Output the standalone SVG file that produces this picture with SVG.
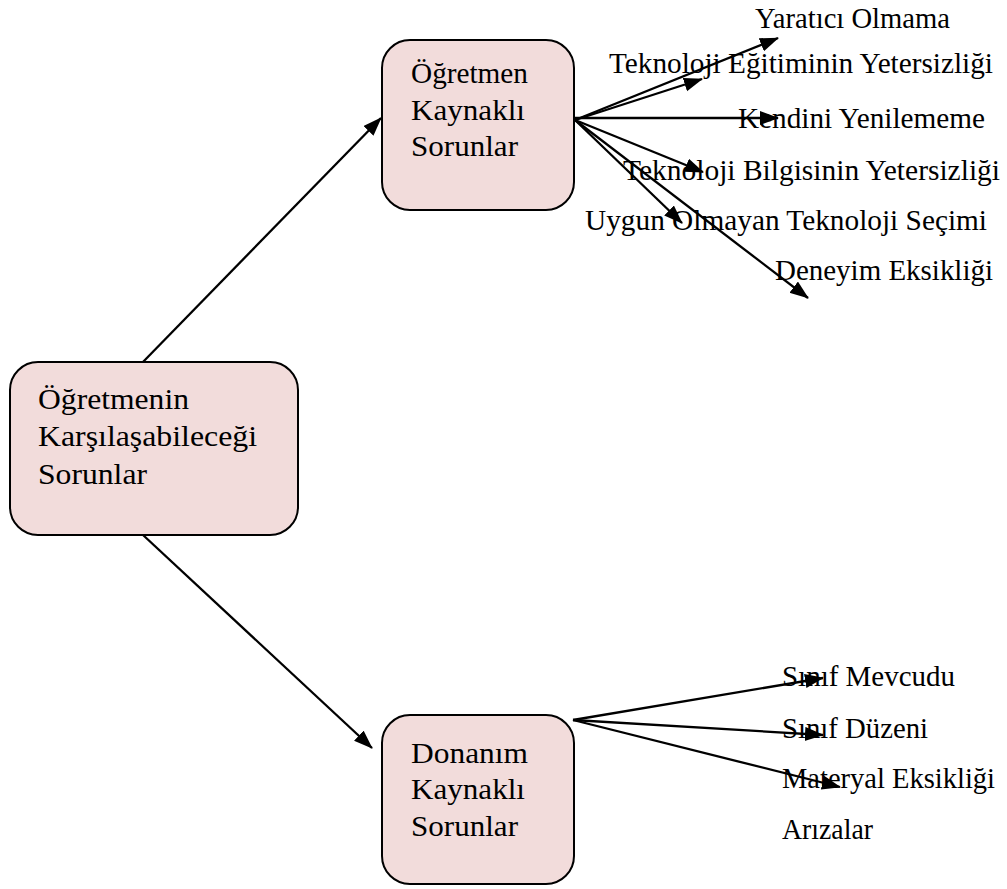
<svg xmlns="http://www.w3.org/2000/svg" width="1007" height="889" viewBox="0 0 1007 889">
  <style>
    .box { fill: #f2dcdb; stroke: #000; stroke-width: 2; }
    .t { font-family: "Liberation Serif", "Times New Roman", serif; font-size: 30px; fill: #000; }
    .lbl { font-family: "Liberation Serif", "Times New Roman", serif; font-size: 29.5px; fill: #000; }
    .edge { stroke: #000; stroke-width: 2.3; fill: none; marker-end: url(#arrow); }
  </style>
  <defs>
    <marker id="arrow" markerUnits="userSpaceOnUse" markerWidth="20" markerHeight="16" refX="18" refY="7" orient="auto">
      <path d="M0,0 L19,7 L0,14 z" fill="#000"/>
    </marker>
  </defs>

  <rect width="1007" height="889" fill="#fff"/>

  <!-- connectors -->
  <g id="connectors">
    <line class="edge" x1="142" y1="363" x2="381" y2="118"/>
    <line class="edge" x1="143" y1="535" x2="372" y2="748"/>
    <!-- teacher-related fan -->
    <line class="edge" x1="575" y1="120" x2="778" y2="38"/>
    <line class="edge" x1="575" y1="120" x2="702" y2="79"/>
    <line class="edge" x1="575" y1="118" x2="778" y2="118"/>
    <line class="edge" x1="575" y1="120" x2="703" y2="172"/>
    <line class="edge" x1="575" y1="120" x2="682" y2="223"/>
    <line class="edge" x1="575" y1="120" x2="808" y2="298"/>
    <!-- hardware-related fan -->
    <line class="edge" x1="573" y1="720" x2="823" y2="678"/>
    <line class="edge" x1="573" y1="720" x2="823" y2="735"/>
    <line class="edge" x1="573" y1="720" x2="840" y2="787"/>
  </g>

  <g id="node-root">
    <rect class="box" x="10" y="362" width="288" height="173" rx="28"/>
    <text class="t" x="38" y="409" textLength="151" lengthAdjust="spacingAndGlyphs">Öğretmenin</text>
    <text class="t" x="38" y="446" textLength="219" lengthAdjust="spacingAndGlyphs">Karşılaşabileceği</text>
    <text class="t" x="38" y="484" textLength="109" lengthAdjust="spacingAndGlyphs">Sorunlar</text>
  </g>

  <g id="node-teacher">
    <rect class="box" x="382" y="40" width="192" height="170" rx="28"/>
    <text class="t" x="411" y="83" textLength="117" lengthAdjust="spacingAndGlyphs">Öğretmen</text>
    <text class="t" x="411" y="120" textLength="114" lengthAdjust="spacingAndGlyphs">Kaynaklı</text>
    <text class="t" x="411" y="156" textLength="107" lengthAdjust="spacingAndGlyphs">Sorunlar</text>
  </g>

  <g id="node-hardware">
    <rect class="box" x="382" y="715" width="192" height="169" rx="28"/>
    <text class="t" x="411" y="763" textLength="117" lengthAdjust="spacingAndGlyphs">Donanım</text>
    <text class="t" x="411" y="799" textLength="114" lengthAdjust="spacingAndGlyphs">Kaynaklı</text>
    <text class="t" x="411" y="836" textLength="107" lengthAdjust="spacingAndGlyphs">Sorunlar</text>
  </g>

  <g id="labels-teacher">
    <text class="lbl" x="755" y="28" textLength="195" lengthAdjust="spacingAndGlyphs">Yaratıcı Olmama</text>
    <text class="lbl" x="609" y="73" textLength="384" lengthAdjust="spacingAndGlyphs">Teknoloji Eğitiminin Yetersizliği</text>
    <text class="lbl" x="738" y="128" textLength="247" lengthAdjust="spacingAndGlyphs">Kendini Yenilememe</text>
    <text class="lbl" x="623" y="180" textLength="377" lengthAdjust="spacingAndGlyphs">Teknoloji Bilgisinin Yetersizliği</text>
    <text class="lbl" x="585" y="230" textLength="402" lengthAdjust="spacingAndGlyphs">Uygun Olmayan Teknoloji Seçimi</text>
    <text class="lbl" x="775" y="280" textLength="218" lengthAdjust="spacingAndGlyphs">Deneyim Eksikliği</text>
  </g>

  <g id="labels-hardware">
    <text class="lbl" x="782" y="686" textLength="173" lengthAdjust="spacingAndGlyphs">Sınıf Mevcudu</text>
    <text class="lbl" x="782" y="738" textLength="146" lengthAdjust="spacingAndGlyphs">Sınıf Düzeni</text>
    <text class="lbl" x="782" y="788" textLength="213" lengthAdjust="spacingAndGlyphs">Materyal Eksikliği</text>
    <text class="lbl" x="782" y="839" textLength="91" lengthAdjust="spacingAndGlyphs">Arızalar</text>
  </g>
</svg>
